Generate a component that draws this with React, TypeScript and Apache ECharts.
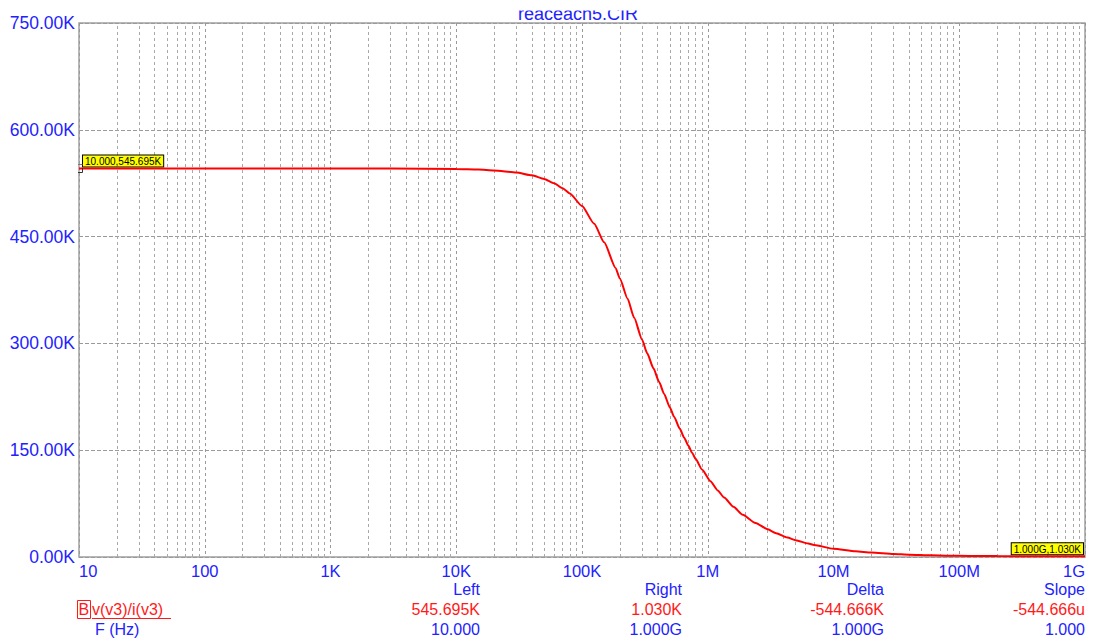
import React, { useEffect, useRef } from "react";
import * as echarts from "echarts";

// Frequency (Hz) and |v(v3)/i(v3)| (K ohm)
const freqHz = [10, 100, 1000, 3000, 10000, 15000, 20000, 30000, 40000, 50000, 60000, 70000, 80000, 100000, 125000, 150000, 185000, 200000, 230000, 260000, 300000, 330000, 370000, 410000, 450000, 500000, 540000, 600000, 650000, 700000, 750000, 800000, 900000, 1.05e6, 1.2e6, 1.35e6, 1.6e6, 1.9e6, 2.4e6, 3e6, 3.5e6, 4.3e6, 5e6, 6.3e6, 7e6, 1e7, 1.5e7, 2e7, 3e7, 4e7, 6e7, 8e7, 1.2e8, 2e8, 5e8, 1e9];
const impedanceK = [545.695, 545.69, 545.68, 545.6, 545.0, 544.2, 543.0, 540.0, 536.0, 531.0, 525.0, 518.0, 510.5, 493.0, 468, 442, 406, 391, 363, 336, 305.5, 286, 265, 246, 229, 210, 197, 180, 167.5, 156.5, 146.5, 138, 123, 106.5, 93.5, 83.5, 70.5, 59.2, 47.8, 38.8, 33.3, 27.3, 23.6, 18.9, 17.0, 11.5, 8.0, 6.2, 4.2, 3.2, 2.3, 1.9, 1.5, 1.3, 1.1, 1.03];

const xMajorValues = [10, 100, 1000, 1e4, 1e5, 1e6, 1e7, 1e8, 1e9];
const xMajorLabels = ["10", "100", "1K", "10K", "100K", "1M", "10M", "100M", "1G"];
const minorMultipliers = [2, 3, 4, 5, 6, 7, 8, 9];

const yMin = 0;
const yMax = 750;
const yStep = 150;

const titleText = "reaceach5.CIR";
const traceName = "v(v3)/i(v3)";
const traceLetter = "B";
const xVarName = "F (Hz)";
const tableHeaders = ["Left", "Right", "Delta", "Slope"];
const traceRow = ["545.695K", "1.030K", "-544.666K", "-544.666u"];
const xRow = ["10.000", "1.000G", "1.000G", "1.000"];
const leftCursor = { f: 10, v: 545.695, label: "10.000,545.695K" };
const rightCursor = { f: 1e9, v: 1.03, label: "1.000G,1.030K" };

const BLUE = "#2222ff";
const RED = "#ff1a1a";
const FONT = "'Liberation Sans', Arial, sans-serif";

export default function App() {
  const ref = useRef<HTMLDivElement>(null);

  useEffect(() => {
    if (!ref.current) return;
    const chart = echarts.init(ref.current, null, { renderer: "svg" });

    const minorLines: number[] = [];
    for (let i = 0; i < xMajorValues.length - 1; i++) {
      for (const m of minorMultipliers) minorLines.push(xMajorValues[i] * m);
    }
    const labelMap: Record<string, string> = {};
    xMajorValues.forEach((v, i) => (labelMap[String(Math.round(Math.log10(v)))] = xMajorLabels[i]));

    const colRight = [480, 682, 884, 1085];
    const graphics: any[] = [
      {
        type: "text",
        left: 518,
        top: 4.5,
        z: 1,
        style: { text: titleText, fill: BLUE, font: `18px ${FONT}` },
      },
      { type: "rect", left: 480, top: 0, z: 100, shape: { width: 200, height: 10.5 }, style: { fill: "#ffffff" } },
      { type: "rect", shape: { x: 77.5, y: 600.5, width: 13, height: 18 }, style: { fill: "none", stroke: RED, lineWidth: 1 } },
      { type: "text", x: 78.5, y: 609.5, style: { text: traceLetter, fill: RED, font: `16px ${FONT}`, textVerticalAlign: "middle" } },
      { type: "text", x: 92, y: 609, style: { text: traceName, fill: RED, font: `16px ${FONT}`, textVerticalAlign: "middle" } },
      { type: "line", shape: { x1: 92, y1: 618.5, x2: 171, y2: 618.5 }, style: { stroke: RED, lineWidth: 1 } },
      { type: "text", x: 95, y: 629, style: { text: xVarName, fill: BLUE, font: `16px ${FONT}`, textVerticalAlign: "middle" } },
      {
        type: "polyline",
        z: 50,
        shape: { points: [[78, 164.5], [82.5, 164.5]] },
        style: { stroke: "#777", lineWidth: 1, fill: "none" },
      },
      {
        type: "polyline",
        z: 50,
        shape: { points: [[82.5, 168], [82.5, 172.5], [78, 172.5]] },
        style: { stroke: "#333", lineWidth: 1, fill: "none" },
      },
    ];
    tableHeaders.forEach((h, i) => {
      graphics.push({ type: "text", x: colRight[i], y: 589, style: { text: h, fill: BLUE, font: `16px ${FONT}`, textAlign: "right", textVerticalAlign: "middle" } });
      graphics.push({ type: "text", x: colRight[i], y: 609, style: { text: traceRow[i], fill: RED, font: `16px ${FONT}`, textAlign: "right", textVerticalAlign: "middle" } });
      graphics.push({ type: "text", x: colRight[i], y: 629, style: { text: xRow[i], fill: BLUE, font: `16px ${FONT}`, textAlign: "right", textVerticalAlign: "middle" } });
    });

    const cursorLabel = (align: "left" | "right") => ({
      show: true,
      color: "#000",
      fontSize: 10,
      fontFamily: FONT,
      backgroundColor: "#ffff00",
      borderColor: "#000",
      borderWidth: 1,
      padding: [1, 2, 0, 2],
      align,
      position: align === "left" ? [4, -13] : [-2, -13],
    });

    chart.setOption({
      animation: false,
      backgroundColor: "#ffffff",
      textStyle: { fontFamily: FONT },
      grid: { left: 79, right: 14, top: 23, bottom: 82, show: true, borderColor: "#a0a0a0", borderWidth: 1.5, backgroundColor: "transparent" },
      xAxis: {
        type: "log",
        logBase: 10,
        min: 10,
        max: 1e9,
        splitNumber: 8,
        axisLine: { show: false },
        axisTick: { show: false },
        axisLabel: {
          color: BLUE,
          fontSize: 16.5,
          fontFamily: FONT,
          margin: 5,
          alignMinLabel: "left",
          alignMaxLabel: "right",
          formatter: (v: number) => labelMap[String(Math.round(Math.log10(v)))] ?? "",
        },
        splitLine: { show: true, lineStyle: { color: "#9a9a9a", type: [3, 3], width: 1 } },
      },
      yAxis: {
        type: "value",
        min: yMin,
        max: yMax,
        interval: yStep,
        axisLine: { show: false },
        axisTick: { show: false },
        axisLabel: { color: BLUE, fontSize: 17.5, fontFamily: FONT, margin: 4, formatter: (v: number) => v.toFixed(2) + "K" },
        splitLine: { show: true, lineStyle: { color: "#9a9a9a", type: [4, 2], width: 1 } },
      },
      series: [
        {
          type: "line",
          z: 1,
          data: [[10, 0]],
          symbol: "none",
          lineStyle: { opacity: 0 },
          silent: true,
          markLine: {
            silent: true,
            symbol: ["none", "none"],
            label: { show: false },
            lineStyle: { color: "#a8a8a8", type: [3, 3], width: 1 },
            data: minorLines.map((v) => ({ xAxis: v })),
          },
        },
        {
          type: "line",
          z: 5,
          name: traceName,
          data: freqHz.map((f, i) => [f, impedanceK[i]]),
          symbol: "none",
          smooth: 0.2,
          smoothMonotone: "x",
          lineStyle: { color: "#ff0000", width: 2 },
          markPoint: {
            symbol: "rect",
            symbolSize: 0,
            silent: true,
            data: [
              { coord: [leftCursor.f, leftCursor.v], label: { ...cursorLabel("left"), formatter: leftCursor.label } },
              { coord: [rightCursor.f, rightCursor.v], label: { ...cursorLabel("right"), formatter: rightCursor.label } },
            ],
          },
        },
      ],
      graphic: graphics,
    });

    return () => chart.dispose();
  }, []);

  return <div ref={ref} style={{ position: "fixed", left: 0, top: 0, width: 1099, height: 639, background: "#fff" }} />;
}
